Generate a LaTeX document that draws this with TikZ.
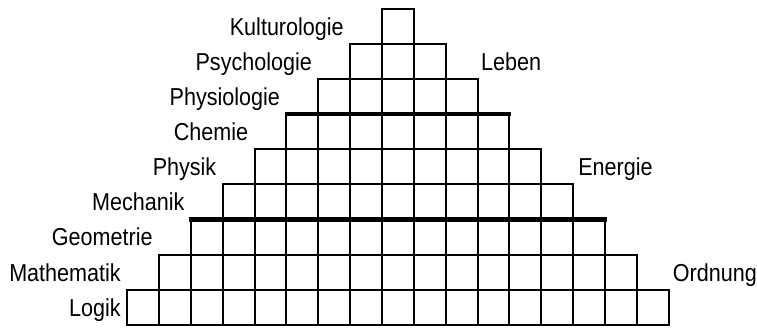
\documentclass[tikz,border=0pt]{standalone}
\usepackage{fontspec}
\setmainfont[FakeStretch=0.88]{Liberation Sans}
\begin{document}
\begin{tikzpicture}[x = 31.86pt, y = 35.15pt, line width = 2pt,
	fach/.style = {anchor = base east, inner sep = 0pt, font = \fontsize{24.5}{28}\selectfont},
	gebiet/.style = {anchor = base west, inner sep = 0pt, font = \fontsize{24.5}{28}\selectfont}]
	\useasboundingbox (-12.49,-0.057) rectangle (11.27,9.246);
	\foreach \i [evaluate = \i as \n using int(16-2*\i)] in {0,...,8}
		\foreach \c in {0,...,\n}
			\draw (-8.5+\i+\c,\i) rectangle ++(1,1);
	\draw [line width = 4.5pt] (-3.55,6) -- (3.55,6);
	\draw [line width = 4.5pt] (-6.55,3) -- (6.55,3);
	\node [fach] (logik) at (-8.67,0.25) {Logik};
	\node [fach] (mathematik) at (-8.67,1.25) {Mathematik};
	\node [fach] (geometrie) at (-7.67,2.25) {Geometrie};
	\node [fach] (mechanik) at (-6.67,3.25) {Mechanik};
	\node [fach] (physik) at (-5.67,4.25) {Physik};
	\node [fach] (chemie) at (-4.67,5.25) {Chemie};
	\node [fach] (physiologie) at (-3.67,6.25) {Physiologie};
	\node [fach] (psychologie) at (-2.67,7.25) {Psychologie};
	\node [fach] (kulturologie) at (-1.67,8.25) {Kulturologie};
	\node [gebiet] (ordnung) at (8.6,1.25) {Ordnung};
	\node [gebiet] (energie) at (5.63,4.25) {Energie};
	\node [gebiet] (leben) at (2.58,7.25) {Leben};
\end{tikzpicture}
\end{document}
